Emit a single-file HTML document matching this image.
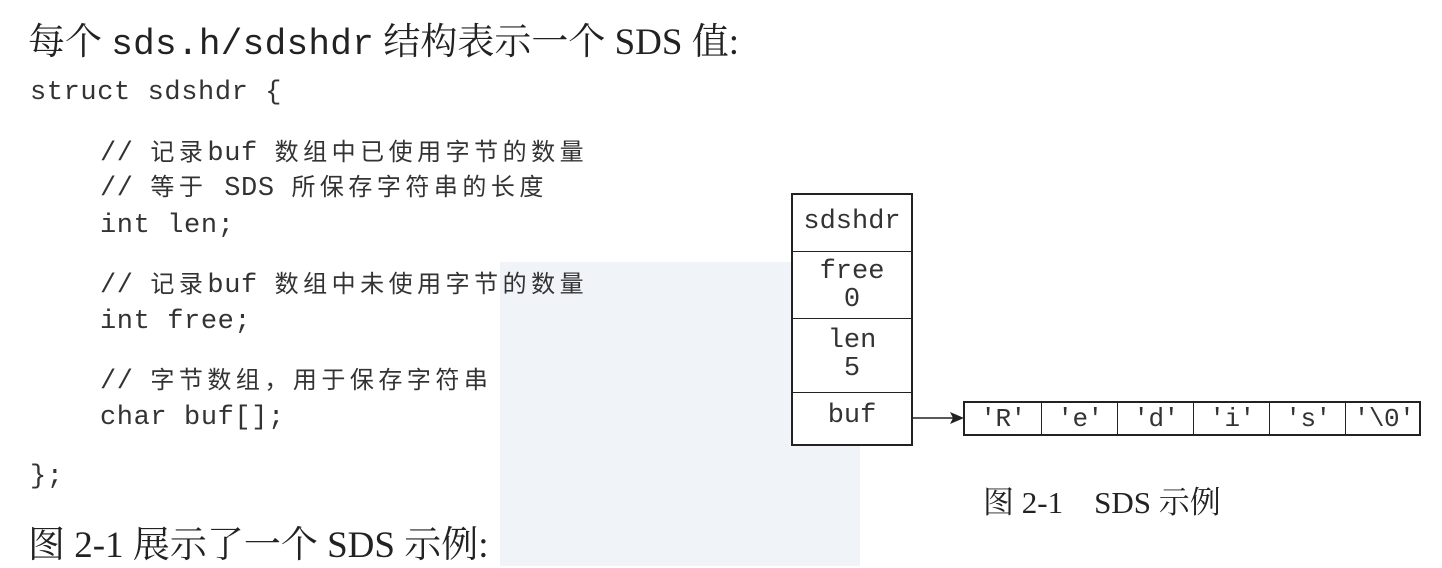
<!DOCTYPE html>
<html><head><meta charset="utf-8"><style>
body{margin:0;width:1442px;height:566px;background:#fff;position:relative;overflow:hidden;font-family:"Liberation Serif","Noto Serif CJK SC",serif;color:#222}
.a{position:absolute;white-space:nowrap}
.m{font-family:"Liberation Mono","Noto Sans CJK SC",monospace;font-size:27px;line-height:32px;letter-spacing:0.6px;color:#333}
.c{font-family:"Liberation Sans","Noto Sans CJK SC",sans-serif;font-size:24px;letter-spacing:4.5px}
.wm{position:absolute;background:#f0f4f8}
.box{position:absolute;border:2px solid #222;box-sizing:border-box}
.row{position:absolute;left:0;width:100%;border-top:1.5px solid #222;text-align:center;font-family:"Liberation Mono",monospace;font-size:27px;line-height:28px;color:#333;box-sizing:border-box}
.cell{position:absolute;top:0;height:100%;border-left:1.5px solid #222;text-align:center;font-family:"Liberation Mono",monospace;font-size:26px;line-height:33px;color:#333;letter-spacing:-0.5px}
</style></head><body>
<div class="wm" style="left:500px;top:262px;width:360px;height:304px"></div>

<div class="a" style="left:28px;top:11px;font-size:37px;font-family:'Liberation Serif','Noto Serif CJK SC',serif">每个 <span style="font-family:'Liberation Mono',monospace;font-size:36px;letter-spacing:0.3px">sds.h/sdshdr</span> 结构表示一个 SDS 值:</div>

<div class="a m" style="left:30px;top:77px">struct sdshdr {</div>
<div class="a m" style="left:100px;top:137px">// <span class="c">记录</span>buf <span class="c">数组中已使用字节的数量</span></div>
<div class="a m" style="left:100px;top:172px">// <span class="c">等于</span> SDS <span class="c">所保存字符串的长度</span></div>
<div class="a m" style="left:100px;top:210px">int len;</div>
<div class="a m" style="left:100px;top:269px">// <span class="c">记录</span>buf <span class="c">数组中未使用字节的数量</span></div>
<div class="a m" style="left:100px;top:306px">int free;</div>
<div class="a m" style="left:100px;top:365px">// <span class="c">字节数组，用于保存字符串</span></div>
<div class="a m" style="left:100px;top:402px">char buf[];</div>
<div class="a m" style="left:30px;top:461px">};</div>

<div class="a" style="left:28px;top:514px;font-size:37px">图 2-1 展示了一个 SDS 示例:</div>

<div class="box" style="left:791px;top:193px;width:122px;height:253px;background:#fff">
 <div class="row" style="top:0;border-top:none;height:57px;line-height:54px">sdshdr</div>
 <div class="row" style="top:56px;height:67px;padding-top:6px">free<br>0</div>
 <div class="row" style="top:123px;height:74px;padding-top:8px">len<br>5</div>
 <div class="row" style="top:197px;height:54px;line-height:46px">buf</div>
</div>

<svg class="a" style="left:912px;top:405px" width="55" height="26"><line x1="0" y1="13" x2="44" y2="13" stroke="#222" stroke-width="1.5"/><polygon points="52,13 38,7 41,13 38,19" fill="#222"/></svg>

<div class="box" style="left:963px;top:401px;width:458px;height:35px;background:#fff">
 <div class="cell" style="left:0;width:76px;border-left:none">'R'</div>
 <div class="cell" style="left:76px;width:76px">'e'</div>
 <div class="cell" style="left:152px;width:76px">'d'</div>
 <div class="cell" style="left:228px;width:76px">'i'</div>
 <div class="cell" style="left:304px;width:76px">'s'</div>
 <div class="cell" style="left:380px;width:76px">'\0'</div>
</div>

<div class="a" style="left:983px;top:477px;font-size:31px">图 2-1&nbsp;&nbsp;&nbsp;&nbsp;SDS 示例</div>
</body></html>
